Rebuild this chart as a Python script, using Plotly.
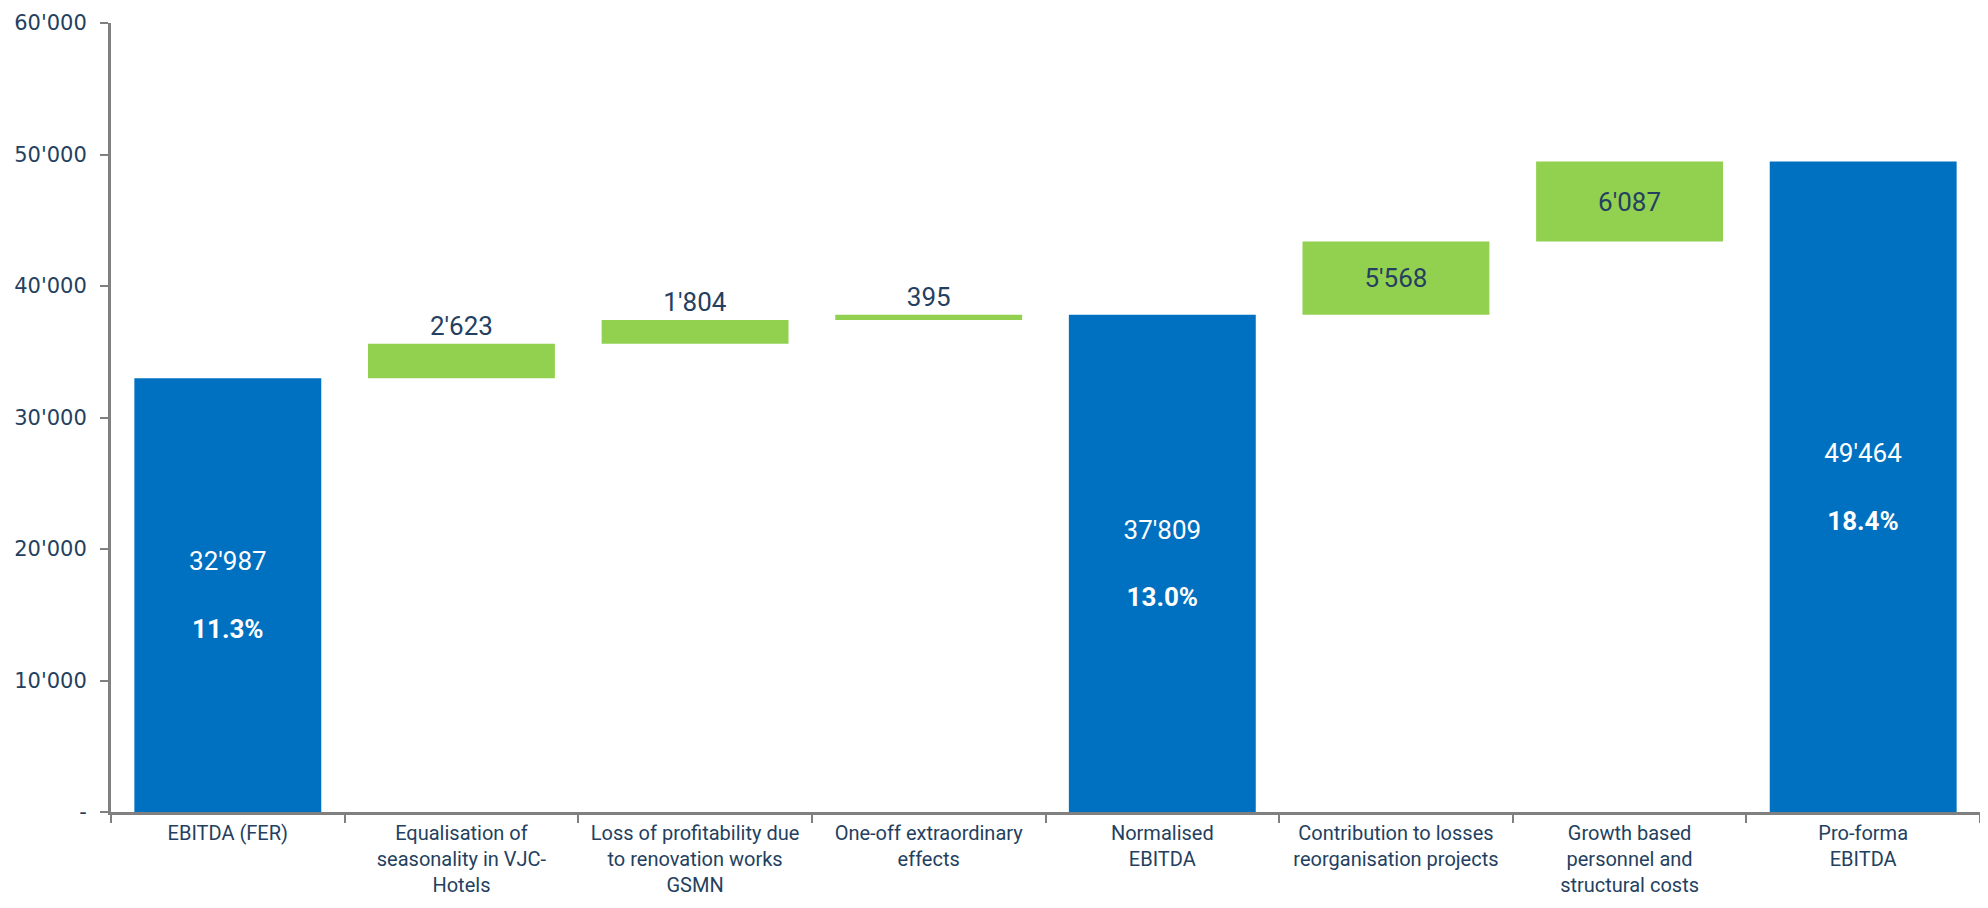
import plotly.graph_objects as go

categories = [
    "EBITDA (FER)",
    "Equalisation of<br>seasonality in VJC-<br>Hotels",
    "Loss of profitability due<br>to renovation works<br>GSMN",
    "One-off extraordinary<br>effects",
    "Normalised<br>EBITDA",
    "Contribution to losses<br>reorganisation projects",
    "Growth based<br>personnel and<br>structural costs",
    "Pro-forma<br>EBITDA",
]
measures = ["absolute", "relative", "relative", "relative", "total", "relative", "relative", "total"]
values = [32987, 2623, 1804, 395, 37809, 5568, 6087, 49464]
margins = ["11.3%", None, None, None, "13.0%", None, None, "18.4%"]
text_positions = ["inside", "outside", "outside", "outside", "inside", "inside", "inside", "inside"]

y_tickvals = [0, 10000, 20000, 30000, 40000, 50000, 60000]
y_ticktext = ["-", "10'000", "20'000", "30'000", "40'000", "50'000", "60'000"]

BLUE = "#0070C0"
GREEN = "#92D050"
NAVY = "#243F60"
GREY = "#808080"
NARROW = "Roboto, sans-serif"


def fmt(v):
    return f"{v:,}".replace(",", "'")


texts = []
colors = []
for v, m in zip(values, margins):
    if m:
        texts.append(f"{fmt(v)}<br><br><b>{m}</b>")
        colors.append("white")
    else:
        texts.append(fmt(v))
        colors.append(NAVY)

fig = go.Figure(
    go.Waterfall(
        x=categories,
        y=values,
        measure=measures,
        text=texts,
        textposition=text_positions,
        insidetextanchor="middle",
        textfont=dict(family=NARROW, size=26, color=colors),
        constraintext="none",
        cliponaxis=False,
        increasing=dict(marker=dict(color=GREEN, line=dict(width=0))),
        decreasing=dict(marker=dict(color=GREEN, line=dict(width=0))),
        totals=dict(marker=dict(color=BLUE, line=dict(width=0))),
        connector=dict(visible=False),
        hoverinfo="skip",
    )
)

# page body has an 8px default margin, so the figure is sized to fit inside it
fig.update_layout(
    width=1972,
    height=892,
    margin=dict(l=103, r=0, t=15, b=88, autoexpand=False),
    paper_bgcolor="white",
    plot_bgcolor="white",
    showlegend=False,
    bargap=0.474,
    font=dict(family=NARROW, color=NAVY),
)

fig.update_xaxes(
    type="category",
    showline=True,
    linecolor=GREY,
    linewidth=3,
    ticks="outside",
    tickson="boundaries",
    ticklen=8,
    tickwidth=2,
    tickcolor=GREY,
    tickangle=0,
    automargin=False,
    tickfont=dict(family=NARROW, size=20, color=NAVY),
    ticklabelstandoff=1,
    showgrid=False,
    zeroline=False,
)

fig.update_yaxes(
    range=[0, 60000],
    tickvals=y_tickvals,
    ticktext=y_ticktext,
    showline=True,
    linecolor=GREY,
    linewidth=3,
    ticks="outside",
    ticklen=8,
    tickwidth=2,
    tickcolor=GREY,
    automargin=False,
    ticklabeloverflow="allow",
    tickfont=dict(family="Verdana, DejaVu Sans, sans-serif", size=21, color=NAVY),
    ticklabelstandoff=9,
    showgrid=False,
    zeroline=False,
)

fig.write_html("out.html")
